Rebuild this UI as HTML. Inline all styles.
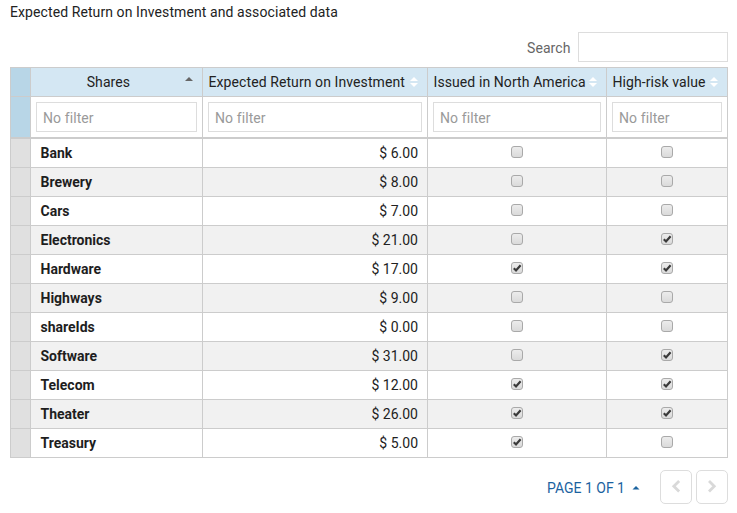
<!DOCTYPE html>
<html><head><meta charset="utf-8"><title>Expected Return on Investment</title>
<style>
*{box-sizing:border-box;margin:0;padding:0}
html,body{width:737px;height:513px;background:#fff;overflow:hidden}
body{position:relative;font-family:Roboto,"Liberation Sans",sans-serif;font-size:14px;color:#222;letter-spacing:0.09px}
div{position:absolute}
svg{display:block}
.t{white-space:nowrap;line-height:16px}
.title{left:10px;top:4px}
.slabel{left:527px;top:40px;color:#666}
.sinput{left:578px;top:32px;width:150px;height:30px;border:1px solid #ddd;background:#fff}
.ln{background:#ccc}
.fin{height:30px;border:1px solid #ddd;background:#fff;color:#9a9a9a;padding-left:6px;line-height:31px;white-space:nowrap}
.nm{font-weight:bold;color:#1e1e1e;letter-spacing:0}
.val{text-align:right;color:#222;letter-spacing:0}
.cb{width:12px;height:12px;border:1px solid #a9a9a9;border-radius:3px;background:linear-gradient(#ececec,#dadada)}
.cb svg{position:absolute;left:0;top:0}
.pg{left:547px;top:480px;color:#1b62a0;letter-spacing:0}
.btn{top:470px;width:32px;height:34px;border:1px solid #ddd;border-radius:5px;background:#fff}
</style></head>
<body>
<div class="t title">Expected Return on Investment and associated data</div>
<div class="t slabel">Search</div>
<div class="sinput"></div>
<div style="left:10px;top:67px;width:718px;height:29px;background:#d4e7f3"></div>
<div style="left:10px;top:67px;width:20px;height:70px;background:#b8d6e7"></div>
<div style="left:30px;top:139px;width:697px;height:28px;background:#fff"></div>
<div style="left:10px;top:139px;width:20px;height:28px;background:#e0e0e0"></div>
<div style="left:30px;top:168px;width:697px;height:28px;background:#f1f1f1"></div>
<div style="left:10px;top:168px;width:20px;height:28px;background:#e0e0e0"></div>
<div style="left:30px;top:197px;width:697px;height:28px;background:#fff"></div>
<div style="left:10px;top:197px;width:20px;height:28px;background:#e0e0e0"></div>
<div style="left:30px;top:226px;width:697px;height:28px;background:#f1f1f1"></div>
<div style="left:10px;top:226px;width:20px;height:28px;background:#e0e0e0"></div>
<div style="left:30px;top:255px;width:697px;height:28px;background:#fff"></div>
<div style="left:10px;top:255px;width:20px;height:28px;background:#e0e0e0"></div>
<div style="left:30px;top:284px;width:697px;height:28px;background:#f1f1f1"></div>
<div style="left:10px;top:284px;width:20px;height:28px;background:#e0e0e0"></div>
<div style="left:30px;top:313px;width:697px;height:28px;background:#fff"></div>
<div style="left:10px;top:313px;width:20px;height:28px;background:#e0e0e0"></div>
<div style="left:30px;top:342px;width:697px;height:28px;background:#f1f1f1"></div>
<div style="left:10px;top:342px;width:20px;height:28px;background:#e0e0e0"></div>
<div style="left:30px;top:371px;width:697px;height:28px;background:#fff"></div>
<div style="left:10px;top:371px;width:20px;height:28px;background:#e0e0e0"></div>
<div style="left:30px;top:400px;width:697px;height:28px;background:#f1f1f1"></div>
<div style="left:10px;top:400px;width:20px;height:28px;background:#e0e0e0"></div>
<div style="left:30px;top:429px;width:697px;height:28px;background:#fff"></div>
<div style="left:10px;top:429px;width:20px;height:28px;background:#e0e0e0"></div>
<div class="ln" style="left:10px;top:67px;width:718px;height:1px"></div>
<div class="ln" style="left:10px;top:96px;width:718px;height:1px"></div>
<div class="ln" style="left:10px;top:137px;width:718px;height:2px"></div>
<div class="ln" style="left:10px;top:167px;width:718px;height:1px"></div>
<div class="ln" style="left:10px;top:196px;width:718px;height:1px"></div>
<div class="ln" style="left:10px;top:225px;width:718px;height:1px"></div>
<div class="ln" style="left:10px;top:254px;width:718px;height:1px"></div>
<div class="ln" style="left:10px;top:283px;width:718px;height:1px"></div>
<div class="ln" style="left:10px;top:312px;width:718px;height:1px"></div>
<div class="ln" style="left:10px;top:341px;width:718px;height:1px"></div>
<div class="ln" style="left:10px;top:370px;width:718px;height:1px"></div>
<div class="ln" style="left:10px;top:399px;width:718px;height:1px"></div>
<div class="ln" style="left:10px;top:428px;width:718px;height:1px"></div>
<div class="ln" style="left:10px;top:457px;width:718px;height:1px"></div>
<div class="ln" style="left:10px;top:67px;width:1px;height:391px"></div>
<div class="ln" style="left:30px;top:67px;width:1px;height:391px"></div>
<div class="ln" style="left:202px;top:67px;width:1px;height:391px"></div>
<div class="ln" style="left:427px;top:67px;width:1px;height:391px"></div>
<div class="ln" style="left:606px;top:67px;width:1px;height:391px"></div>
<div class="ln" style="left:727px;top:67px;width:1px;height:391px"></div>
<div class="t" style="left:86.7px;top:74px">Shares</div>
<div class="t" style="left:208.5px;top:74px">Expected Return on Investment</div>
<div style="left:410px;top:77px;width:8px;height:10px"><svg width="8" height="10" viewBox="0 0 8 10"><path d="M0 4.1L4 0L8 4.1Z M0 5.9L4 10L8 5.9Z" fill="#fff"/></svg></div>
<div class="t" style="left:433.5px;top:74px">Issued in North America</div>
<div style="left:589px;top:77px;width:8px;height:10px"><svg width="8" height="10" viewBox="0 0 8 10"><path d="M0 4.1L4 0L8 4.1Z M0 5.9L4 10L8 5.9Z" fill="#fff"/></svg></div>
<div class="t" style="left:612.5px;top:74px">High-risk value</div>
<div style="left:710px;top:77px;width:8px;height:10px"><svg width="8" height="10" viewBox="0 0 8 10"><path d="M0 4.1L4 0L8 4.1Z M0 5.9L4 10L8 5.9Z" fill="#fff"/></svg></div>
<div style="left:185px;top:77px;width:8px;height:5px"><svg width="8" height="5" viewBox="0 0 8 5"><path d="M0 4L4 0L8 4Z" fill="#666"/></svg></div>
<div class="fin" style="left:36px;top:102px;width:161px">No filter</div>
<div class="fin" style="left:208px;top:102px;width:214px">No filter</div>
<div class="fin" style="left:433px;top:102px;width:168px">No filter</div>
<div class="fin" style="left:612px;top:102px;width:110px">No filter</div>
<div class="t nm" style="left:40.5px;top:145px">Bank</div>
<div class="t val" style="left:202px;top:145px;width:216px">$ 6.00</div>
<div class="cb" style="left:511px;top:146px"></div>
<div class="cb" style="left:661px;top:146px"></div>
<div class="t nm" style="left:40.5px;top:174px">Brewery</div>
<div class="t val" style="left:202px;top:174px;width:216px">$ 8.00</div>
<div class="cb" style="left:511px;top:175px"></div>
<div class="cb" style="left:661px;top:175px"></div>
<div class="t nm" style="left:40.5px;top:203px">Cars</div>
<div class="t val" style="left:202px;top:203px;width:216px">$ 7.00</div>
<div class="cb" style="left:511px;top:204px"></div>
<div class="cb" style="left:661px;top:204px"></div>
<div class="t nm" style="left:40.5px;top:232px">Electronics</div>
<div class="t val" style="left:202px;top:232px;width:216px">$ 21.00</div>
<div class="cb" style="left:511px;top:233px"></div>
<div class="cb" style="left:661px;top:233px"><svg width="10" height="10" viewBox="0 0 10 10"><path d="M1.8 5.3L4 7.5L8.6 2.2" stroke="#3a3a3a" stroke-width="2.2" fill="none"/></svg></div>
<div class="t nm" style="left:40.5px;top:261px">Hardware</div>
<div class="t val" style="left:202px;top:261px;width:216px">$ 17.00</div>
<div class="cb" style="left:511px;top:262px"><svg width="10" height="10" viewBox="0 0 10 10"><path d="M1.8 5.3L4 7.5L8.6 2.2" stroke="#3a3a3a" stroke-width="2.2" fill="none"/></svg></div>
<div class="cb" style="left:661px;top:262px"><svg width="10" height="10" viewBox="0 0 10 10"><path d="M1.8 5.3L4 7.5L8.6 2.2" stroke="#3a3a3a" stroke-width="2.2" fill="none"/></svg></div>
<div class="t nm" style="left:40.5px;top:290px">Highways</div>
<div class="t val" style="left:202px;top:290px;width:216px">$ 9.00</div>
<div class="cb" style="left:511px;top:291px"></div>
<div class="cb" style="left:661px;top:291px"></div>
<div class="t nm" style="left:40.5px;top:319px">shareIds</div>
<div class="t val" style="left:202px;top:319px;width:216px">$ 0.00</div>
<div class="cb" style="left:511px;top:320px"></div>
<div class="cb" style="left:661px;top:320px"></div>
<div class="t nm" style="left:40.5px;top:348px">Software</div>
<div class="t val" style="left:202px;top:348px;width:216px">$ 31.00</div>
<div class="cb" style="left:511px;top:349px"></div>
<div class="cb" style="left:661px;top:349px"><svg width="10" height="10" viewBox="0 0 10 10"><path d="M1.8 5.3L4 7.5L8.6 2.2" stroke="#3a3a3a" stroke-width="2.2" fill="none"/></svg></div>
<div class="t nm" style="left:40.5px;top:377px">Telecom</div>
<div class="t val" style="left:202px;top:377px;width:216px">$ 12.00</div>
<div class="cb" style="left:511px;top:378px"><svg width="10" height="10" viewBox="0 0 10 10"><path d="M1.8 5.3L4 7.5L8.6 2.2" stroke="#3a3a3a" stroke-width="2.2" fill="none"/></svg></div>
<div class="cb" style="left:661px;top:378px"><svg width="10" height="10" viewBox="0 0 10 10"><path d="M1.8 5.3L4 7.5L8.6 2.2" stroke="#3a3a3a" stroke-width="2.2" fill="none"/></svg></div>
<div class="t nm" style="left:40.5px;top:406px">Theater</div>
<div class="t val" style="left:202px;top:406px;width:216px">$ 26.00</div>
<div class="cb" style="left:511px;top:407px"><svg width="10" height="10" viewBox="0 0 10 10"><path d="M1.8 5.3L4 7.5L8.6 2.2" stroke="#3a3a3a" stroke-width="2.2" fill="none"/></svg></div>
<div class="cb" style="left:661px;top:407px"><svg width="10" height="10" viewBox="0 0 10 10"><path d="M1.8 5.3L4 7.5L8.6 2.2" stroke="#3a3a3a" stroke-width="2.2" fill="none"/></svg></div>
<div class="t nm" style="left:40.5px;top:435px">Treasury</div>
<div class="t val" style="left:202px;top:435px;width:216px">$ 5.00</div>
<div class="cb" style="left:511px;top:436px"><svg width="10" height="10" viewBox="0 0 10 10"><path d="M1.8 5.3L4 7.5L8.6 2.2" stroke="#3a3a3a" stroke-width="2.2" fill="none"/></svg></div>
<div class="cb" style="left:661px;top:436px"></div>
<div class="t pg">PAGE 1 OF 1</div>
<div style="left:632px;top:485px;width:8px;height:5px"><svg width="8" height="5" viewBox="0 0 8 5"><path d="M0.5 4.5L4 1L7.5 4.5Z" fill="#1c64a0"/></svg></div>
<div class="btn" style="left:660px"><svg width="30" height="32" viewBox="0 0 30 32"><path d="M18.15 10L12.8 15.3L18.15 20.6" stroke="#d9d9d9" stroke-width="2.8" fill="none"/></svg></div>
<div class="btn" style="left:696px"><svg width="30" height="32" viewBox="0 0 30 32"><path d="M12 10L17.25 15.3L12 20.6" stroke="#d9d9d9" stroke-width="2.8" fill="none"/></svg></div>
</body></html>
